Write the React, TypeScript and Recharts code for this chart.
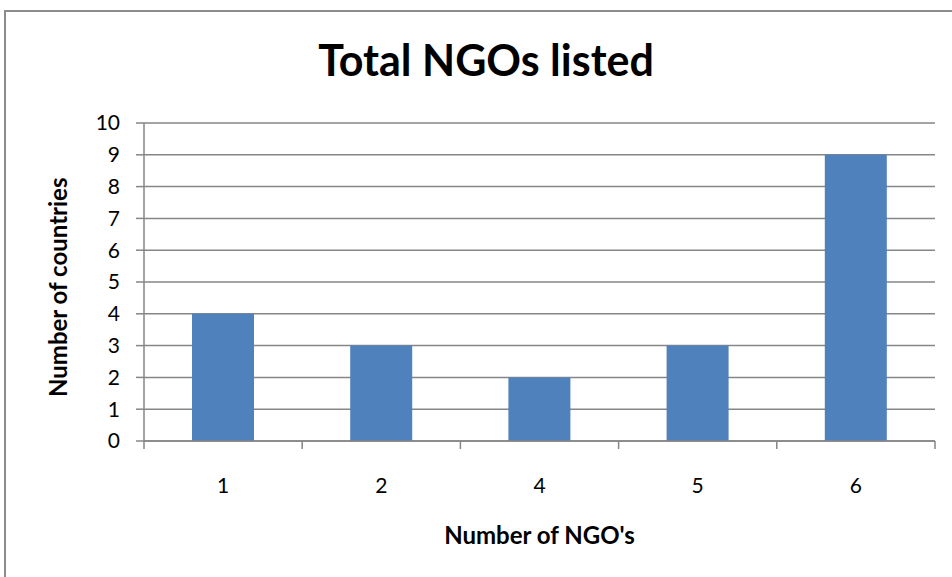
import React from 'react';
import { BarChart, Bar, XAxis, YAxis, CartesianGrid } from 'recharts';

const categories = ['1', '2', '4', '5', '6'];
const countries = [4, 3, 2, 3, 9];
const yTicks = [0, 1, 2, 3, 4, 5, 6, 7, 8, 9, 10];
const boundaryTicks = [0, 1, 2, 3, 4, 5];

const chartData = categories.map((c, i) => ({ ngos: c, countries: countries[i], pos: i + 0.5 }));

const FONT = 'Lato, "Open Sans", sans-serif';
const AXIS = '#868686';

export default function App() {
  return (
    <div style={{ position: 'relative', width: 952, height: 577, background: '#fff', overflow: 'hidden', fontFamily: FONT }}>
      <style>{'body{margin:0}'}</style>
      <div
        style={{
          position: 'absolute',
          left: 4,
          top: 10,
          width: 960,
          height: 600,
          border: '2px solid #8c8c8c',
        }}
      />
      <div
        style={{
          position: 'absolute',
          left: 0,
          width: 972,
          top: 34,
          textAlign: 'center',
          fontSize: 43,
          fontWeight: 700,
          color: '#000',
        }}
      >
        Total NGOs listed
      </div>
      <div style={{ position: 'absolute', left: 0, top: 0 }}>
        <BarChart
          width={952}
          height={577}
          data={chartData}
          margin={{ top: 123, right: 17, bottom: 75, left: 64 }}
          barSize={62}
        >
          <CartesianGrid vertical={false} stroke={AXIS} strokeWidth={1.5} />
          <XAxis
            xAxisId="bound"
            type="number"
            dataKey="pos"
            domain={[0, 5]}
            ticks={boundaryTicks}
            interval={0}
            tickFormatter={() => ''}
            tickSize={8}
            axisLine={{ stroke: AXIS, strokeWidth: 1.5 }}
            tickLine={{ stroke: AXIS, strokeWidth: 1.5 }}
            height={1}
          />
          <XAxis
            dataKey="ngos"
            xAxisId="cat"
            axisLine={false}
            tickLine={false}
            tickSize={0}
            tickMargin={36}
            tick={{ fill: '#000', fontSize: 21, fontFamily: FONT }}
            label={{ value: "Number of NGO's", position: 'insideBottom', offset: -42, fill: '#000', fontSize: 24, fontWeight: 700, fontFamily: FONT }}
            height={60}
          />
          <YAxis
            domain={[0, 10]}
            ticks={yTicks}
            interval={0}
            width={80}
            tickSize={8}
            tickMargin={16}
            axisLine={{ stroke: AXIS, strokeWidth: 1.5 }}
            tickLine={{ stroke: AXIS, strokeWidth: 1.5 }}
            tick={{ fill: '#000', fontSize: 21, fontFamily: FONT }}
            label={{ value: 'Number of countries', angle: -90, position: 'insideLeft', offset: -6, dy: 115, fill: '#000', fontSize: 24, fontWeight: 700, fontFamily: FONT }}
          />
          <Bar dataKey="countries" xAxisId="cat" fill="#4F81BD" isAnimationActive={false} />
        </BarChart>
      </div>
    </div>
  );
}
